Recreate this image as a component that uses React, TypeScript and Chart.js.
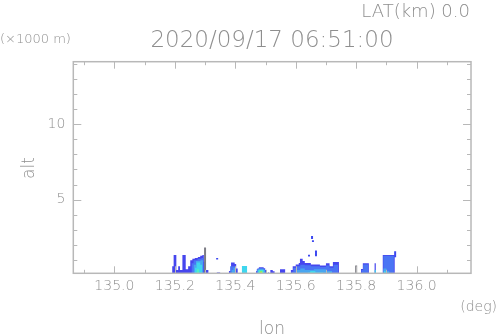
import React, { useEffect, useRef } from "react";
import { Chart, registerables } from "chart.js";

Chart.register(...registerables);

// ---- axis ticks ----
const xMajorTicks = [135.0, 135.2, 135.4, 135.6, 135.8, 136.0];
const xMinorTicks = [134.9, 135.1, 135.3, 135.5, 135.7, 135.9, 136.1];
const yMajorTicks = [5, 10];
const yMinorTicks = [1, 2, 3, 4, 6, 7, 8, 9, 11, 12, 13, 14];
const xRange = [134.864, 136.18];
const yRange = [0.14, 14.12];

// ---- texts ----
const titleText = "2020/09/17 06:51:00";
const latText = "LAT(km) 0.0";
const yUnitText = "(×1000 m)";
const xUnitText = "(deg)";
const xAxisName = "lon";
const yAxisName = "alt";

// ---- echo layers: [lon (deg), echo top (x1000 m)] step breakpoints ----
const echoLevel1: [number, number][] = [
  [135.191, 0.6], [135.196, 1.35], [135.205, 0.35], [135.211, 0.6], [135.217, 0.35],
  [135.225, 1.35], [135.236, 0.4], [135.244, 0.6], [135.251, 1.0], [135.258, 1.1],
  [135.266, 1.15], [135.276, 1.22], [135.284, 1.3], [135.291, 1.35], [135.296, 0.9],
  [135.303, 0.35], [135.311, 0], [135.339, 0.2], [135.35, 0], [135.379, 0.3],
  [135.386, 0.85], [135.398, 0.75], [135.403, 0.45], [135.408, 0], [135.469, 0.3],
  [135.473, 0.45], [135.478, 0.54], [135.494, 0.48], [135.499, 0.35], [135.503, 0],
  [135.508, 0.2], [135.512, 0], [135.516, 0.35], [135.524, 0.28], [135.53, 0],
  [135.548, 0.4], [135.565, 0], [135.584, 0.36], [135.59, 0.6], [135.6, 0.72],
  [135.61, 0.82], [135.614, 1.1], [135.623, 0.95], [135.63, 0.82], [135.65, 0.72],
  [135.68, 0.66], [135.7, 0.8], [135.712, 0.6], [135.723, 0.88], [135.743, 0],
  [135.816, 0.43], [135.822, 0.8], [135.842, 0], [135.861, 0.8], [135.865, 0],
  [135.888, 1.35], [135.928, 0],
];
const echoLevel2: [number, number][] = [
  [135.255, 0.8], [135.262, 1.0], [135.275, 1.1], [135.288, 1.15], [135.295, 0],
  [135.383, 0.6], [135.4, 0], [135.471, 0.4], [135.497, 0],
  [135.586, 0.25], [135.592, 0.5], [135.602, 0.6], [135.615, 0.7], [135.63, 0.68],
  [135.65, 0.6], [135.68, 0.55], [135.7, 0.65], [135.712, 0.5], [135.725, 0.7], [135.74, 0],
  [135.818, 0.35], [135.823, 0.72], [135.84, 0], [135.89, 1.3], [135.925, 0],
];
const echoLevel3: [number, number][] = [
  [135.262, 0.7], [135.27, 0.95], [135.285, 1.0], [135.293, 0],
  [135.388, 0.35], [135.394, 0.5], [135.401, 0],
  [135.473, 0.35], [135.476, 0.45], [135.494, 0.38], [135.499, 0],
  [135.6, 0.35], [135.615, 0.45], [135.63, 0.35], [135.66, 0.4], [135.7, 0.3], [135.72, 0],
  [135.89, 0.45], [135.9, 0.3], [135.91, 0],
];
const echoLevel4: [number, number][] = [
  [135.266, 0.5], [135.272, 0.85], [135.284, 0.7], [135.29, 0],
  [135.422, 0.63], [135.439, 0],
  [135.476, 0.36], [135.494, 0],
  [135.64, 0.2], [135.648, 0.3], [135.665, 0.2], [135.69, 0],
  [135.861, 0.35], [135.865, 0],
  [135.892, 0.3], [135.898, 0],
];
const echoLevel5: [number, number][] = [
  [135.272, 0.4], [135.28, 0], [135.478, 0.32], [135.492, 0], [135.648, 0.2], [135.656, 0],
];
const echoLevel6: [number, number][] = [[135.481, 0.28], [135.49, 0]];
const echoLevel7: [number, number][] = [[135.484, 0.2], [135.488, 0]];

// ---- thin columns: [lon, bottom, top] ----
const spikesGray: [number, number, number][] = [
  [135.3, 0.14, 1.85], [135.8, 0.14, 0.65],
];
const spikesBlue: [number, number, number][] = [
  [135.34, 1.05, 1.15], [135.644, 1.25, 1.37], [135.654, 2.4, 2.6],
  [135.657, 2.2, 2.32], [135.667, 1.27, 1.64], [135.929, 1.2, 1.6],
];

const levelColors = ["#4646ee", "#4a74f4", "#48a6f0", "#3fd6ee", "#52eec4", "#9af04a", "#f0e040"];
const levels = [echoLevel1, echoLevel2, echoLevel3, echoLevel4, echoLevel5, echoLevel6, echoLevel7];

const TEXT = "#8e8e8e";
const FONT = '"DejaVu Sans ExtraLight", "DejaVu Sans"';

const decor = {
  id: "decor",
  afterDatasetsDraw(chart: any) {
    const { ctx, chartArea: a, scales } = chart;
    const x = scales.x, y = scales.y;
    ctx.save();
    const line = (x1: number, y1: number, x2: number, y2: number) => {
      ctx.beginPath(); ctx.moveTo(x1, y1); ctx.lineTo(x2, y2); ctx.stroke();
    };
    ctx.strokeStyle = "#b8b8b8";
    ctx.lineWidth = 1.5;
    ctx.strokeRect(a.left, a.top, a.right - a.left, a.bottom - a.top);
    ctx.lineWidth = 1;
    xMajorTicks.forEach((v) => {
      const p = Math.round(x.getPixelForValue(v)) + 0.5;
      line(p, a.bottom, p, a.bottom - 7); line(p, a.top, p, a.top + 7);
    });
    xMinorTicks.forEach((v) => {
      const p = Math.round(x.getPixelForValue(v)) + 0.5;
      line(p, a.bottom, p, a.bottom - 3.5); line(p, a.top, p, a.top + 3.5);
    });
    yMajorTicks.forEach((v) => {
      const p = Math.round(y.getPixelForValue(v)) + 0.5;
      line(a.left, p, a.left + 8, p); line(a.right, p, a.right - 8, p);
    });
    yMinorTicks.forEach((v) => {
      const p = Math.round(y.getPixelForValue(v)) + 0.5;
      line(a.left, p, a.left + 4, p); line(a.right, p, a.right - 4, p);
    });
    ctx.fillStyle = TEXT;
    ctx.textBaseline = "middle";
    ctx.textAlign = "center";
    ctx.font = `200 23px ${FONT}`;
    ctx.fillText(titleText, 272, 41);
    ctx.textAlign = "right";
    ctx.font = `200 18px ${FONT}`;
    ctx.fillText(latText, 470, 12);
    ctx.textAlign = "left";
    ctx.font = `200 13px ${FONT}`;
    ctx.fillText(yUnitText, 0, 40);
    ctx.textAlign = "right";
    ctx.font = `200 14px ${FONT}`;
    ctx.fillText(xUnitText, 497, 307);
    ctx.textAlign = "center";
    ctx.font = `200 17px ${FONT}`;
    ctx.fillText(xAxisName, 272, 330);
    ctx.translate(30, 168);
    ctx.rotate(-Math.PI / 2);
    ctx.fillText(yAxisName, 0, 0);
    ctx.restore();
  },
};

export default function App() {
  const ref = useRef<HTMLCanvasElement>(null);
  useEffect(() => {
    if (!ref.current) return;
    const areaSets = levels.map((lv, i) => ({
      type: "line" as const,
      data: lv.map(([lon, h]) => ({ x: lon, y: h })),
      stepped: "before" as const,
      fill: "origin",
      backgroundColor: levelColors[i],
      borderColor: "transparent",
      borderWidth: 0,
      pointRadius: 0,
      pointHitRadius: 0,
      order: 20 - i,
    }));
    const spikeSet = (s: [number, number, number][], color: string) => ({
      type: "line" as const,
      data: s.flatMap(([lon, b, t]) => [
        { x: lon, y: b }, { x: lon, y: t }, { x: lon, y: null },
      ]),
      borderColor: color,
      borderWidth: 2,
      borderCapStyle: "butt",
      pointRadius: 0,
      pointHitRadius: 0,
      fill: false,
      spanGaps: false,
      order: 1,
    });
    const chart = new Chart(ref.current, {
      type: "line",
      data: {
        datasets: [
          ...areaSets,
          spikeSet(spikesGray, "#7c7c84"),
          spikeSet(spikesBlue, "#3c48f0"),
        ] as any,
      },
      options: {
        animation: false,
        responsive: false,
        maintainAspectRatio: false,
        devicePixelRatio: 1,
        layout: { padding: { top: 61.7, right: 27, bottom: 0, left: 0 } },
        plugins: { legend: { display: false }, tooltip: { enabled: false } },
        scales: {
          x: {
            type: "linear",
            position: "bottom",
            min: xRange[0],
            max: xRange[1],
            afterBuildTicks: (s: any) => { s.ticks = xMajorTicks.map((v) => ({ value: v })); },
            afterFit: (s: any) => { s.height = 336 - 273.3; },
            grid: { display: false, drawTicks: false },
            border: { display: false },
            ticks: {
              callback: (v: any) => Number(v).toFixed(1),
              font: { family: FONT, size: 14, weight: 200 },
              color: TEXT,
              padding: 5,
              maxRotation: 0,
              autoSkip: false,
            },
          },
          y: {
            type: "linear",
            min: yRange[0],
            max: yRange[1],
            afterBuildTicks: (s: any) => { s.ticks = yMajorTicks.map((v) => ({ value: v })); },
            afterFit: (s: any) => { s.width = 73.3; },
            grid: { display: false, drawTicks: false },
            border: { display: false },
            ticks: {
              callback: (v: any) => String(v),
              font: { family: FONT, size: 14, weight: 200 },
              color: TEXT,
              padding: 8,
              autoSkip: false,
            },
          },
        },
      } as any,
      plugins: [decor],
    });
    return () => chart.destroy();
  }, []);
  return (
    <div style={{ position: "absolute", left: 0, top: 0, width: 498, height: 336, background: "#fff" }}>
      <canvas ref={ref} width={498} height={336} style={{ display: "block" }} />
    </div>
  );
}
